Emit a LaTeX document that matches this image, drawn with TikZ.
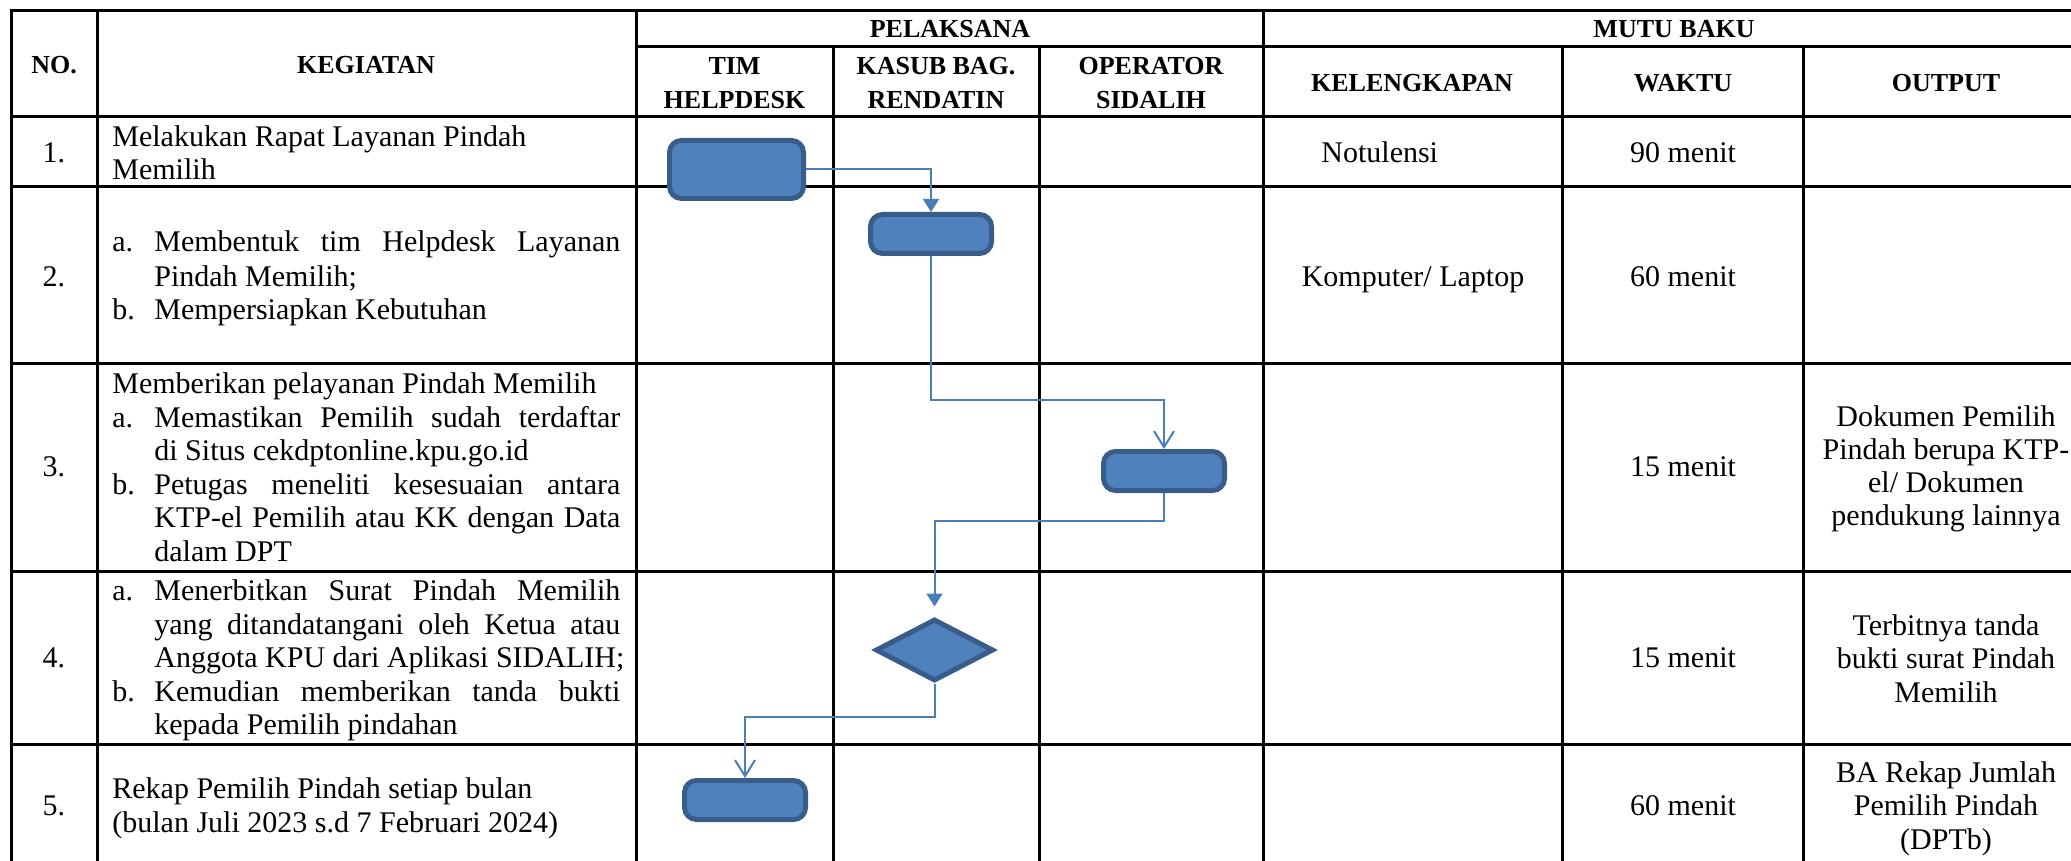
\documentclass[tikz,border=0pt]{standalone}
\usepackage{fontspec}
\setmainfont{Liberation Serif}
\usetikzlibrary{shapes.geometric,arrows.meta}
\definecolor{boxfill}{HTML}{4F81BD}
\definecolor{boxline}{HTML}{385D8A}
\definecolor{connblue}{HTML}{4A7EBB}
\begin{document}
\begin{tikzpicture}[x=0.5pt,y=-0.5pt,
  grid/.style={line width=1.5pt,black},
  proc/.style={rectangle,rounded corners=6pt,draw=boxline,fill=boxfill,line width=2.5pt,minimum width=60.5pt,minimum height=19.5pt,inner sep=0pt},
  dec/.style={diamond,draw=boxline,fill=boxfill,line width=2.5pt,minimum width=59pt,minimum height=31pt,inner sep=0pt},
  conn/.style={draw=connblue,line width=1pt},
  fillhead/.style={-{Triangle[width=8pt,length=6.5pt]}},
  openhead/.style={-{Straight Barb[width=10pt,length=8pt]}},
  hd/.style={font=\fontsize{13pt}{15pt}\selectfont\bfseries,anchor=base,inner sep=0pt},
  tx/.style={font=\fontsize{15pt}{18pt}\selectfont,anchor=base west,inner sep=0pt},
  tc/.style={font=\fontsize{15pt}{18pt}\selectfont,anchor=base,inner sep=0pt},
]
\useasboundingbox (0,0) rectangle (2071,861);
\clip (0,0) rectangle (2071,861);

% grid
\draw[grid] (11,880) -- (11,11) -- (2090,11);
\draw[grid] (636,47) -- (2090,47);
\foreach \yy in {117,187,363,571,744} \draw[grid] (11,\yy) -- (2090,\yy);
\foreach \xx in {97,636,1263} \draw[grid] (\xx,11) -- (\xx,880);
\foreach \xx in {833,1039,1562,1803} \draw[grid] (\xx,47) -- (\xx,880);

% headers
\node[hd] (hno) at (54,74) {NO.};
\node[hd] (hkeg) at (366,74) {KEGIATAN};
\node[hd] (hpel) at (950,38) {PELAKSANA};
\node[hd] (hmutu) at (1674,38) {MUTU BAKU};
\node[hd] (htim1) at (734.5,75) {TIM};
\node[hd] (htim2) at (734.5,109) {HELPDESK};
\node[hd] (hkas1) at (936,75) {KASUB BAG.};
\node[hd] (hkas2) at (936,109) {RENDATIN};
\node[hd] (hop1) at (1151,75) {OPERATOR};
\node[hd] (hop2) at (1151,109) {SIDALIH};
\node[hd] (hkel) at (1412,92) {KELENGKAPAN};
\node[hd] (hwak) at (1683,92) {WAKTU};
\node[hd] (hout) at (1946,92) {OUTPUT};

% row 1
\node[tc] (n1) at (54,163) {1.};
\node[tx] (k1a) at (112,147) {Melakukan Rapat Layanan Pindah};
\node[tx] (k1b) at (112,180) {Memilih};
\node[tx] (kel1) at (1321,163) {Notulensi};
\node[tc] (w1) at (1683,163) {90 menit};

% row 2
\node[tc] (n2) at (54,286) {2.};
\node[tx] (k2a) at (112,252) {a.};
\node[tx] (k2b) at (154,252) {\makebox[233pt][s]{Membentuk tim Helpdesk Layanan}};
\node[tx] (k2c) at (154,286) {Pindah Memilih;};
\node[tx] (k2d) at (112,320) {b.};
\node[tx] (k2e) at (154,320) {Mempersiapkan Kebutuhan};
\node[tc] (kel2) at (1413,286) {Komputer/ Laptop};
\node[tc] (w2) at (1683,286) {60 menit};

% row 3
\node[tc] (n3) at (54,476) {3.};
\node[tx] (k3a) at (112,393) {Memberikan pelayanan Pindah Memilih};
\node[tx] (k3b) at (112,427) {a.};
\node[tx] (k3c) at (154,427) {\makebox[233pt][s]{Memastikan Pemilih sudah terdaftar}};
\node[tx] (k3d) at (154,460) {di Situs cekdptonline.kpu.go.id};
\node[tx] (k3e) at (112,494) {b.};
\node[tx] (k3f) at (154,494) {\makebox[233pt][s]{Petugas meneliti kesesuaian antara}};
\node[tx] (k3g) at (154,527) {\makebox[233pt][s]{KTP-el Pemilih atau KK dengan Data}};
\node[tx] (k3h) at (154,561) {dalam DPT};
\node[tc] (w3) at (1683,476) {15 menit};
\node[tc] (o3a) at (1946,426) {Dokumen Pemilih};
\node[tc] (o3b) at (1946,459) {Pindah berupa KTP-};
\node[tc] (o3c) at (1946,492) {el/ Dokumen};
\node[tc] (o3d) at (1946,525) {pendukung lainnya};

% row 4
\node[tc] (n4) at (54,667) {4.};
\node[tx] (k4a) at (112,600) {a.};
\node[tx] (k4b) at (154,600) {\makebox[233pt][s]{Menerbitkan Surat Pindah Memilih}};
\node[tx] (k4c) at (154,634) {\makebox[233pt][s]{yang ditandatangani oleh Ketua atau}};
\node[tx] (k4d) at (154,667) {Anggota KPU dari Aplikasi SIDALIH;};
\node[tx] (k4e) at (112,701) {b.};
\node[tx] (k4f) at (154,701) {\makebox[233pt][s]{Kemudian memberikan tanda bukti}};
\node[tx] (k4g) at (154,734) {kepada Pemilih pindahan};
\node[tc] (w4) at (1683,667) {15 menit};
\node[tc] (o4a) at (1946,635) {Terbitnya tanda};
\node[tc] (o4b) at (1946,668) {bukti surat Pindah};
\node[tc] (o4c) at (1946,702) {Memilih};

% row 5
\node[tc] (n5) at (54,815) {5.};
\node[tx] (k5a) at (112,798) {Rekap Pemilih Pindah setiap bulan};
\node[tx] (k5b) at (112,832) {(bulan Juli 2023 s.d 7 Februari 2024)};
\node[tc] (w5) at (1683,815) {60 menit};
\node[tc] (o5a) at (1946,782) {BA Rekap Jumlah};
\node[tc] (o5b) at (1946,815) {Pemilih Pindah};
\node[tc] (o5c) at (1946,849) {(DPTb)};

% flow shapes
\node[proc,minimum width=67pt,minimum height=29pt] (b1) at (736.5,169.5) {};
\node[proc] (b2) at (931,234) {};
\node[proc] (b3) at (1164,471) {};
\node[dec] (d4) at (934.5,650) {};
\node[proc] (b5) at (745,800) {};

\coordinate (j1) at (1000,400);
\coordinate (j2) at (1000,521);
\coordinate (j3) at (800,717);

\draw[conn,fillhead] (b1.east) -| (b2.north);
\draw[conn,openhead] (b2.south) |- (j1) -| (b3.north);
\draw[conn,fillhead,shorten >=5pt] (b3.south) |- (j2) -| (d4.north);
\draw[conn,openhead] (d4.south) |- (j3) -| (b5.north);
\end{tikzpicture}
\end{document}
